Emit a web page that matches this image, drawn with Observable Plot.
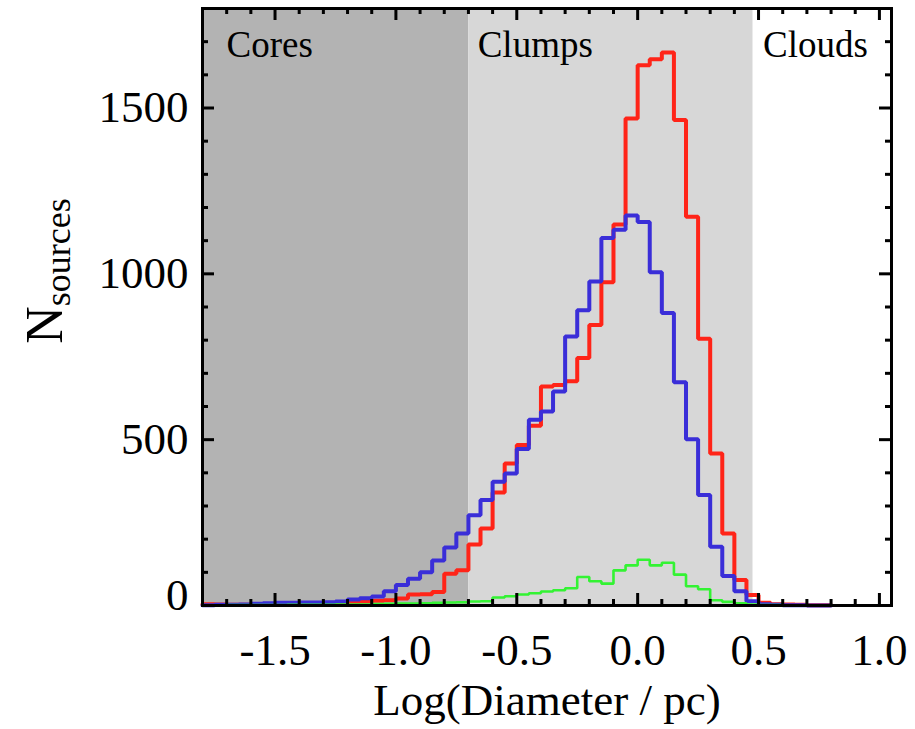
<!DOCTYPE html>
<html>
<head>
<meta charset="utf-8">
<script src="https://cdn.jsdelivr.net/npm/d3@7"></script>
<script src="https://cdn.jsdelivr.net/npm/@observablehq/plot@0.6"></script>
<style>
  body { margin: 0; background: #fff; }
</style>
</head>
<body>
<div id="chart"></div>
<script>
// Histogram bins: left edges in log(D / pc), 0.05 dex wide
const binWidth = 0.05;
const binLeft = d3.range(52).map(i => +(-1.8 + i * binWidth).toFixed(2));

// Source counts per bin
const countsRed = [
  4, 3, 2, 2, 3, 3, 4, 4, 5, 6, 7, 8, 10, 12, 14, 16,
  21, 33, 34, 41, 96, 106, 184, 232, 341, 428, 484, 542, 660, 665, 676, 746,
  846, 975, 1149, 1468, 1629, 1647, 1667, 1464, 1172, 804, 458, 217, 77, 32,
  8, 4, 3, 2, 1, 1
];
const countsBlue = [
  1, 2, 2, 3, 5, 7, 8, 8, 9, 9, 10, 12, 18, 22, 27, 43,
  62, 81, 100, 136, 175, 217, 272, 318, 373, 398, 472, 560, 585, 645, 811, 890,
  977, 1108, 1133, 1176, 1156, 1005, 882, 673, 501, 333, 177, 89, 43, 13,
  4, 2, 1, 1, 0, 0
];
const countsGreen = [
  0, 0, 1, 1, 1, 1, 1, 2, 2, 2, 2, 3, 3, 3, 4, 5,
  6, 6, 7, 8, 9, 10, 12, 13, 24, 28, 33, 37, 42, 46, 52, 86,
  73, 66, 106, 121, 138, 121, 129, 93, 58, 49, 16, 11, 7, 3,
  1, 1, 0, 0, 0, 0
];

// Size classes: cores < 0.2 pc < clumps < 3 pc < clouds
const regionNames = ["Cores", "Clumps", "Clouds"];
const regionEdges = [-1.8, Math.log10(0.2), Math.log10(3), 1.05];

// Axis ticks
const xMajor = [-1.5, -1.0, -0.5, 0.0, 0.5, 1.0];
const xMinor = [-1.7, -1.6, -1.4, -1.3, -1.2, -1.1, -0.9, -0.8, -0.7, -0.6, -0.4, -0.3, -0.2, -0.1,
                0.1, 0.2, 0.3, 0.4, 0.6, 0.7, 0.8, 0.9];
const yMajor = [0, 500, 1000, 1500];
const yMinor = [100, 200, 300, 400, 600, 700, 800, 900, 1100, 1200, 1300, 1400, 1600, 1700];

// ---- layout ----
const W = 915, H = 729;
const mL = 202, mR = 24, mT = 8, mB = 124;
const xDom = [-1.8, 1.05], yDom = [0, 1800];
const pxPerX = (W - mL - mR) / (xDom[1] - xDom[0]);
const pxPerY = (H - mT - mB) / (yDom[1] - yDom[0]);
const majorLen = 12, minorLen = 6;

// Step outline of a histogram: each bin contributes its left and right corner
function stepPoints(counts) {
  const pts = [];
  counts.forEach((c, i) => {
    pts.push({x: binLeft[i], y: c});
    pts.push({x: +(binLeft[i] + binWidth).toFixed(2), y: c});
  });
  return pts;
}

const regions = regionNames.map((name, i) => ({name, x1: regionEdges[i], x2: regionEdges[i + 1]}));
const xTicks = [...xMajor.map(v => ({v, len: majorLen})), ...xMinor.map(v => ({v, len: minorLen}))];
const yTicks = [...yMajor.map(v => ({v, len: majorLen})), ...yMinor.map(v => ({v, len: minorLen}))];

const tickStyle = {stroke: "black", strokeWidth: 3};

const chart = Plot.plot({
  width: W,
  height: H,
  marginLeft: mL,
  marginRight: mR,
  marginTop: mT,
  marginBottom: mB,
  style: {fontFamily: "'Liberation Serif', 'DejaVu Serif', serif", fontSize: "45px", background: "#fff", color: "black"},
  x: {domain: xDom, axis: null},
  y: {domain: yDom, axis: null},
  marks: [
    // size-class shading
    Plot.rect(regions.slice(0, 1), {x1: "x1", x2: "x2", y1: yDom[0], y2: yDom[1], fill: "#b3b3b3"}),
    Plot.rect(regions.slice(1, 2), {x1: "x1", x2: "x2", y1: yDom[0], y2: yDom[1], fill: "#d7d7d7"}),

    // region labels
    Plot.text(regions.slice(0, 1), {x: "x1", text: "name", frameAnchor: "top", textAnchor: "start", lineAnchor: "top", dx: 24, dy: 22, fontSize: 37}),
    Plot.text(regions.slice(1, 2), {x: "x1", text: "name", frameAnchor: "top", textAnchor: "start", lineAnchor: "top", dx: 9, dy: 22, fontSize: 37}),
    Plot.text(regions.slice(2, 3), {x: "x1", text: "name", frameAnchor: "top", textAnchor: "start", lineAnchor: "top", dx: 10, dy: 22, fontSize: 37}),

    // histograms
    Plot.line(stepPoints(countsRed), {x: "x", y: "y", stroke: "#ff2418", strokeWidth: 4, strokeLinejoin: "miter"}),
    Plot.line(stepPoints(countsBlue), {x: "x", y: "y", stroke: "#3a2ed8", strokeWidth: 4, strokeLinejoin: "miter"}),
    Plot.line(stepPoints(countsGreen), {x: "x", y: "y", stroke: "#33f333", strokeWidth: 2.6, strokeLinejoin: "miter"}),

    // inward ticks on all four sides
    Plot.ruleX(xTicks, {x: "v", y1: yDom[0], y2: d => yDom[0] + d.len / pxPerY, ...tickStyle}),
    Plot.ruleX(xTicks, {x: "v", y1: yDom[1], y2: d => yDom[1] - d.len / pxPerY, ...tickStyle}),
    Plot.ruleY(yTicks, {y: "v", x1: xDom[0], x2: d => xDom[0] + d.len / pxPerX, ...tickStyle}),
    Plot.ruleY(yTicks, {y: "v", x1: xDom[1], x2: d => xDom[1] - d.len / pxPerX, ...tickStyle}),

    Plot.frame({stroke: "black", strokeWidth: 3}),

    // tick labels
    Plot.axisX({ticks: xMajor, tickSize: 0, tickPadding: 28, tickFormat: d => d.toFixed(1), label: null}),
    Plot.axisY({ticks: yMajor.slice(1), tickSize: 0, tickPadding: 14, tickFormat: d => String(d), label: null}),
    Plot.axisY({ticks: yMajor.slice(0, 1), tickSize: 0, tickPadding: 14, tickFormat: d => String(d), label: null, dy: -10}),

    // x-axis title
    Plot.text(["Log(Diameter / pc)"], {text: d => d, frameAnchor: "bottom", lineAnchor: "top", dy: 78, fontSize: 45})
  ]
});

// y-axis title with subscript
const svg = d3.select(chart);
const ylab = svg.append("text")
  .attr("transform", "translate(62,271) rotate(-90)")
  .attr("text-anchor", "middle")
  .attr("fill", "black");
ylab.append("tspan").attr("font-size", 52).text("N");
ylab.append("tspan").attr("font-size", 36).attr("dy", 8).text("sources");

document.getElementById("chart").appendChild(chart);
</script>
</body>
</html>
